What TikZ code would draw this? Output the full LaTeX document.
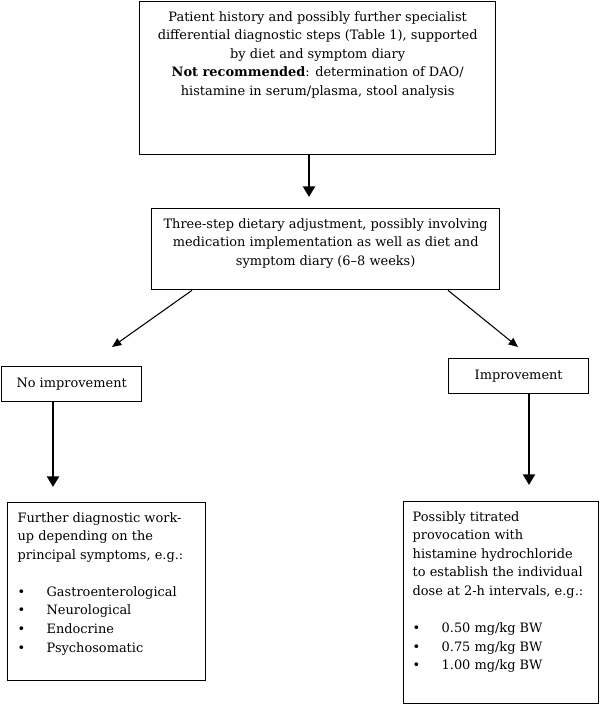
\documentclass[tikz,border=0pt]{standalone}
\usepackage{fontspec}
\setmainfont{DejaVu Serif}
\usetikzlibrary{arrows.meta,positioning,calc}
\tikzset{
    stepbox/.style={
           rectangle,
           draw=black, line width=1pt,
           inner xsep=0pt, inner ysep=5pt,
           anchor=north west,
           font=\fontsize{9.7}{13.9}\selectfont,
           },
    pil/.style={
           -{Triangle[width=9pt,length=8pt]},
           line width=1.6pt,},
    pilthin/.style={
           -{Triangle[width=6pt,length=7pt]},
           line width=0.8pt,}
}
\newcommand{\bul}[1]{\makebox[21.75pt][l]{\textbullet}#1}

\begin{document}
\begin{tikzpicture}[x=0.75pt,y=-0.75pt]
\useasboundingbox (0,0) rectangle (600,705);
% Patient history (HIST)
\node[stepbox] (HIST) at (139,1)
{\parbox[t][104.75pt][t]{267pt}{\centering\strut
Patient history and possibly further specialist\\
differential diagnostic steps (Table 1), supported\\
by diet and symptom diary\\
\textbf{Not recommended}: determination of DAO/\\
histamine in serum/plasma, stool analysis}};
% Dietary adjustment (DIET)
\node[stepbox] (DIET) at (151,208)
{\parbox[t][50.75pt][t]{261pt}{\centering\strut
Three-step dietary adjustment, possibly involving\\
medication implementation as well as diet and\\
symptom diary (6--8 weeks)}};
% Outcomes (NOIMP, IMP)
\node[stepbox, minimum width=105pt, minimum height=26.25pt] (NOIMP) at (1,366)
{No improvement};
\node[stepbox, minimum width=105pt, minimum height=26.25pt] (IMP) at (448,358)
{Improvement};
% Further work-up (FURTHER)
\node[stepbox] (FURTHER) at (7,502)
{\parbox[t][123.5pt][t]{148.5pt}{\raggedright\leftskip=7.5pt\strut
Further diagnostic work-\\
up depending on the\\
principal symptoms, e.g.:\\[13.9pt]
\bul{Gastroenterological}\\
\bul{Neurological}\\
\bul{Endocrine}\\
\bul{Psychosomatic}}};
% Provocation (PROVO)
\node[stepbox] (PROVO) at (403,501)
{\parbox[t][141.5pt][t]{146.25pt}{\raggedright\leftskip=6.75pt\strut
Possibly titrated\\
provocation with\\
histamine hydrochloride\\
to establish the individual\\
dose at 2-h intervals, e.g.:\\[13.9pt]
\bul{0.50 mg/kg BW}\\
\bul{0.75 mg/kg BW}\\
\bul{1.00 mg/kg BW}}};
% Free ends of the split
\coordinate (NOIMPTIP) at (112,347);
\coordinate (IMPTIP) at (518,347);
% Draw lines on graph
\draw[pil, shorten >=8.25pt] (HIST.south -| 309,0) -- (DIET.north -| 309,0);
\draw[pilthin] (DIET.south -| 192,0) -- (NOIMPTIP);
\draw[pilthin] (DIET.south -| 448,0) -- (IMPTIP);
\draw[pil, shorten >=11.25pt] (NOIMP.south -| 53,0) -- (FURTHER.north -| 53,0);
\draw[pil, shorten >=12pt] (IMP.south -| 529,0) -- (PROVO.north -| 529,0);
\end{tikzpicture}
\end{document}
